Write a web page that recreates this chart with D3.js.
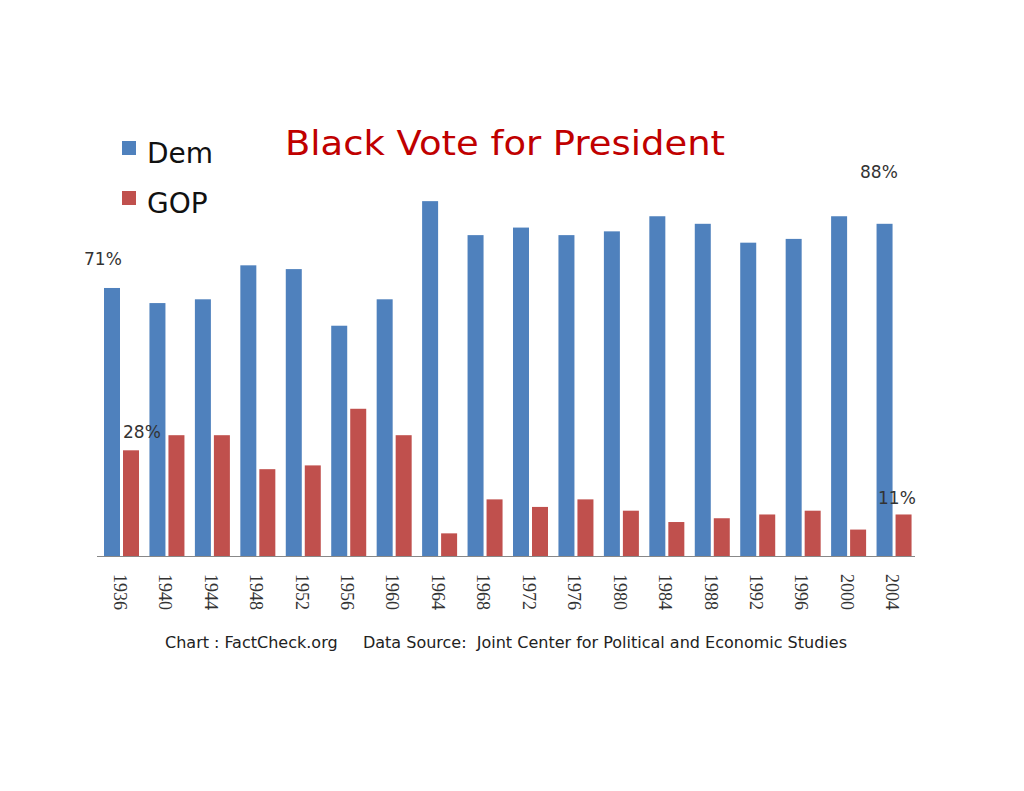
<!DOCTYPE html>
<html><head><meta charset="utf-8">
<script src="https://cdn.jsdelivr.net/npm/d3@7"></script>
<style>body{margin:0;background:#fff}</style></head>
<body><svg id="c" width="1024" height="791"></svg>
<script>
const years=["1936","1940","1944","1948","1952","1956","1960","1964","1968","1972","1976","1980","1984","1988","1992","1996","2000","2004"];
const dem=[71,67,68,77,76,61,68,94,85,87,85,86,90,88,83,84,90,88];
const gop=[28,32,32,23,24,39,32,6,15,13,15,12,9,10,11,12,7,11];
const svg=d3.select("#c");
const x=d3.scaleBand().domain(years).range([97,915]);
const y=d3.scaleLinear().domain([0,100]).range([556,178.5]);
const bw=16;
const g=svg.append("g");
years.forEach((yr,i)=>{
  const x0=x(yr);
  g.append("rect").attr("x",x0+7).attr("y",y(dem[i])).attr("width",bw).attr("height",y(0)-y(dem[i])).attr("fill","#4f81bd");
  g.append("rect").attr("x",x0+26).attr("y",y(gop[i])).attr("width",bw).attr("height",y(0)-y(gop[i])).attr("fill","#c0504d");
});
svg.append("line").attr("x1",97).attr("x2",915).attr("y1",556.5).attr("y2",556.5).attr("stroke","#888");
years.forEach(yr=>{
  svg.append("text").attr("transform",`translate(${x(yr)+x.bandwidth()/2-6},574) rotate(90)`)
   .attr("font-family","Liberation Serif").attr("font-size",18).attr("fill","#333").text(yr);
});
const lab=(t,xx,yy)=>svg.append("text").attr("x",xx).attr("y",yy).attr("font-family","DejaVu Sans").attr("font-size",17).attr("fill","#333").text(t);
lab(dem[0]+"%",84,265);
lab(gop[0]+"%",123,438);
lab(dem[17]+"%",860,178);
lab(gop[17]+"%",878,504);
svg.append("text").attr("x",285).attr("y",155).attr("textLength",440).attr("lengthAdjust","spacingAndGlyphs").attr("font-family","DejaVu Sans").attr("font-size",33).attr("fill","#c00000").text("Black Vote for President");
[["Dem","#4f81bd",153],["GOP","#c0504d",203]].forEach(([t,c,yy])=>{
  svg.append("rect").attr("x",122).attr("y",yy-12).attr("width",14).attr("height",14).attr("fill",c);
  svg.append("text").attr("x",147).attr("y",yy+10).attr("font-family","DejaVu Sans").attr("font-size",28).attr("fill","#111").text(t);
});
svg.append("text").attr("x",165).attr("y",648).attr("textLength",682).attr("lengthAdjust","spacingAndGlyphs").attr("font-family","DejaVu Sans Condensed, DejaVu Sans").attr("font-size",15).attr("fill","#222").attr("xml:space","preserve").text("Chart : FactCheck.org     Data Source:  Joint Center for Political and Economic Studies");
</script></body></html>
